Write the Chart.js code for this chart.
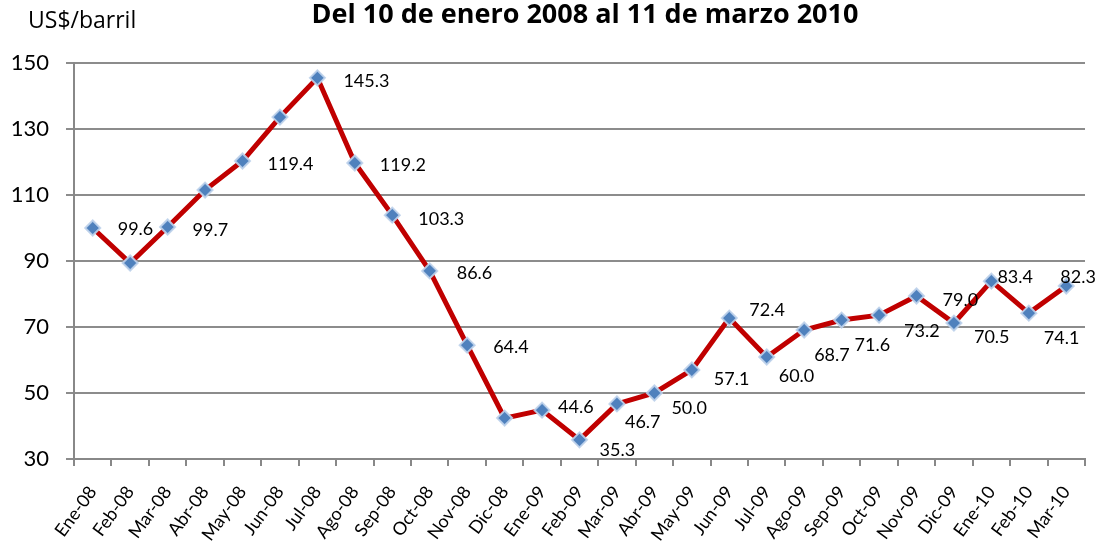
<!DOCTYPE html>
<html>
<head>
<meta charset="utf-8">
<script src="https://cdn.jsdelivr.net/npm/chart.js@4.4.1/dist/chart.umd.min.js"></script>
<style>
  html, body { margin: 0; padding: 0; background: #fff; }
  #wrap { width: 1106px; height: 547px; }
</style>
</head>
<body>
<div id="wrap"><canvas id="myChart"></canvas></div>
<script>
const months = ['Ene-08', 'Feb-08', 'Mar-08', 'Abr-08', 'May-08', 'Jun-08', 'Jul-08', 'Ago-08', 'Sep-08',
    'Oct-08', 'Nov-08', 'Dic-08', 'Ene-09', 'Feb-09', 'Mar-09', 'Abr-09', 'May-09', 'Jun-09',
    'Jul-09', 'Ago-09', 'Sep-09', 'Oct-09', 'Nov-09', 'Dic-09', 'Ene-10', 'Feb-10', 'Mar-10'];

// price as plotted
const prices = [100.0, 89.4, 100.3, 111.5, 120.3, 133.6, 145.5, 119.7, 103.9,
    87.0, 64.5, 42.4, 44.8, 35.8, 46.7, 50.0, 57.0, 72.7,
    60.9, 69.1, 72.1, 73.6, 79.4, 71.2, 83.9, 74.2, 82.4];

// printed value labels (null = no label shown)
const priceLabels = ['99.6', null, '99.7', null, '119.4', null, '145.3', '119.2', '103.3',
    '86.6', '64.4', null, '44.6', '35.3', '46.7', '50.0', '57.1', '72.4',
    '60.0', '68.7', '71.6', '73.2', '79.0', '70.5', '83.4', '74.1', '82.3'];

const yTicks = [30, 50, 70, 90, 110, 130, 150];

// where each value label sits relative to its point (left edge, middle)
const labelOffsets = [[25, 1], null, [25, 3], null, [25, 3], null, [26, 3], [25, 2], [26, 4],
    [27, 2], [26, 2], null, [16, -3], [20, 10], [8, 18], [17, 15], [22, 9], [20, -8],
    [12, 19], [10, 25], [13, 25], [25, 16], [26, 4], [20, 14], [6, -4], [15, 25], [-6, -9]];

const labelsPlugin = {
    id: 'valueLabels',
    afterDatasetsDraw(chart) {
        const ctx = chart.ctx;
        const meta = chart.getDatasetMeta(0);
        ctx.save();
        ctx.font = '18px Lato';
        ctx.fillStyle = '#000';
        ctx.textAlign = 'left';
        ctx.textBaseline = 'middle';
        meta.data.forEach((pt, i) => {
            if (!priceLabels[i]) return;
            const off = labelOffsets[i];
            ctx.fillText(priceLabels[i], pt.x + off[0], pt.y + off[1]);
        });
        // title and unit
        ctx.textBaseline = 'alphabetic';
        ctx.font = 'bold 27px "Open Sans"';
        ctx.textAlign = 'center';
        ctx.fillText('Del 10 de enero 2008 al 11 de marzo 2010', 585, 23);
        ctx.font = '23px "Open Sans"';
        ctx.textAlign = 'left';
        ctx.fillText('US$/barril', 28, 28);
        ctx.restore();
    }
};

function drawChart() {
    const ctx = document.getElementById('myChart');
    new Chart(ctx, {
        type: 'line',
        data: {
            labels: months,
            datasets: [{
                data: prices,
                borderColor: '#C00000',
                borderWidth: 5,
                tension: 0,
                pointStyle: 'rectRot',
                pointRadius: 7.5,
                pointBackgroundColor: '#4F81BD',
                pointBorderColor: 'rgba(190,210,235,0.9)',
                pointBorderWidth: 2
            }]
        },
        options: {
            responsive: true,
            maintainAspectRatio: false,
            animation: false,
            layout: { padding: { top: 63, right: 21, left: 0, bottom: 0 } },
            plugins: {
                legend: { display: false },
                tooltip: { enabled: false }
            },
            scales: {
                x: {
                    offset: true,
                    grid: {
                        offset: true,
                        drawOnChartArea: false,
                        color: '#888',
                        lineWidth: 2,
                        tickLength: 7
                    },
                    border: { color: '#888', width: 2 },
                    ticks: {
                        color: '#000',
                        font: { family: 'Lato', size: 18 },
                        minRotation: 54,
                        maxRotation: 54,
                        autoSkip: false,
                        padding: 16
                    },
                    afterFit(scale) { scale.height = 88; }
                },
                y: {
                    min: 30,
                    max: 150,
                    afterBuildTicks(scale) {
                        scale.ticks = yTicks.map(v => ({ value: v }));
                    },
                    grid: {
                        color: '#8c8c8c',
                        lineWidth: 2,
                        tickLength: 8
                    },
                    border: { color: '#888', width: 2 },
                    ticks: {
                        color: '#000',
                        font: { family: 'Lato', size: 22 },
                        padding: 17
                    },
                    afterFit(scale) { scale.width = 74; }
                }
            }
        },
        plugins: [labelsPlugin]
    });
}

drawChart();
</script>
</body>
</html>
